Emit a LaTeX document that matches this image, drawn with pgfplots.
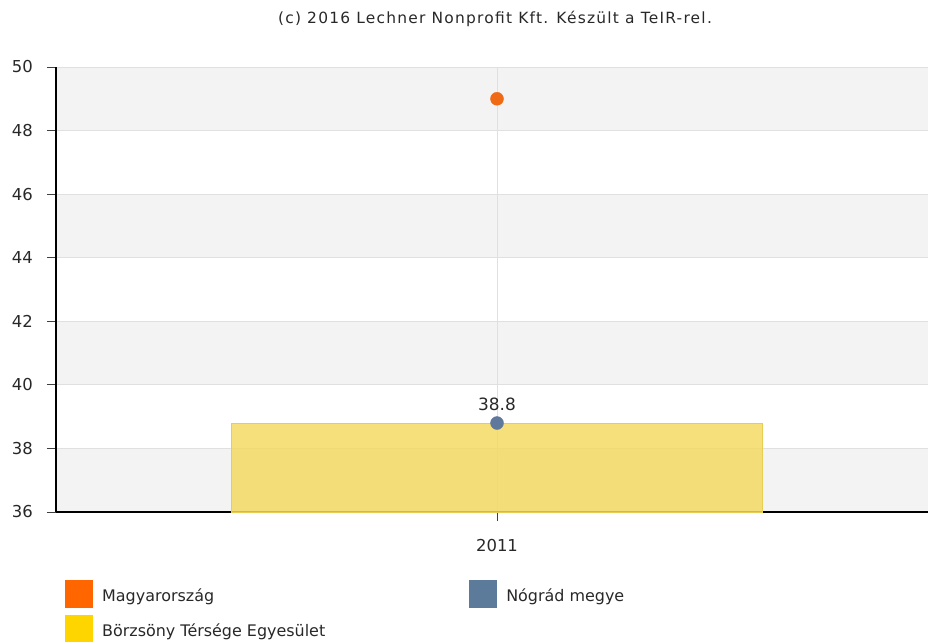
\documentclass[border=0pt]{standalone}
\usepackage{fontspec}
\setmainfont{DejaVu Sans}
\newfontfamily\titlefont[LetterSpace=8]{DejaVu Sans}
\usepackage{pgfplots}
\pgfplotsset{compat=1.18}

\definecolor{txt}{RGB}{40,40,40}
\definecolor{stripe}{RGB}{243,243,243}
\definecolor{gridc}{RGB}{224,224,224}
\definecolor{orangeL}{RGB}{255,102,0}
\definecolor{orangeD}{RGB}{240,105,20}
\definecolor{blueL}{RGB}{92,122,153}
\definecolor{blueD}{RGB}{95,120,155}
\definecolor{yellowL}{RGB}{255,213,0}
\definecolor{barY}{RGB}{243,218,100}
\definecolor{barE}{RGB}{232,205,85}

\begin{document}
\begin{tikzpicture}
\node[font=\titlefont\fontsize{15.5}{17}\selectfont, text=txt] at (495bp,-19bp)
  {(c) 2016 Lechner Nonprofit Kft. Készült a TeIR-rel.};
\begin{axis}[
  set layers,
  at={(56bp,-512bp)}, anchor=south west,
  scale only axis, width=872bp, height=445bp,
  xmin=0, xmax=872, ymin=36, ymax=50,
  axis x line*=bottom, axis y line*=left,
  axis line style={black, line width=1.3bp},
  ytick={36,38,...,50},
  xtick={441}, xticklabels={2011},
  tick align=outside, major tick length=9bp,
  tick style={black!75, line width=1bp},
  ymajorgrids, xmajorgrids,
  major grid style={gridc, line width=1bp},
  /pgf/number format/assume math mode=true,
  ticklabel style={font=\fontsize{16.5}{18}\selectfont, text=txt},
  yticklabel style={anchor=east, inner sep=0pt, xshift=-14bp},
  xticklabel style={anchor=north, inner sep=0pt, yshift=-18bp},
  legend columns=2,
  legend cell align=left,
  legend image code/.code={\fill[#1, draw=none] (0bp,-6bp) rectangle (28bp,22bp);},
  legend style={draw=none, fill=none, inner sep=0pt,
    at={(0,0)}, anchor=north west, xshift=9bp, yshift=-68bp,
    font=\fontsize{16}{18}\selectfont, text=txt,
    nodes={inner sep=0pt},
    row sep=7bp,
    /tikz/every odd column/.append style={column sep=9bp},
    /tikz/every even column/.append style={column sep=144bp, yshift=6bp}},
]
\begin{pgfonlayer}{axis background}
  \fill[stripe] (axis cs:0,48) rectangle (axis cs:872,50);
  \fill[stripe] (axis cs:0,44) rectangle (axis cs:872,46);
  \fill[stripe] (axis cs:0,40) rectangle (axis cs:872,42);
  \fill[stripe] (axis cs:0,36) rectangle (axis cs:872,38);
\end{pgfonlayer}

\addlegendimage{fill=orangeL}
\addlegendentry{Magyarország}
\addlegendimage{fill=blueL}
\addlegendentry{Nógrád megye}
\addlegendimage{fill=yellowL}
\addlegendentry{Börzsöny Térsége Egyesület}

% Börzsöny Térsége Egyesület
\addplot[forget plot, ybar, bar width=531, bar shift=0pt,
  fill=barY, fill opacity=0.85, draw=barE, line width=1bp]
  coordinates {(441,38.8)};
% Magyarország
\addplot[forget plot, only marks, mark=*, mark size=6.5bp,
  mark options={fill=orangeD, draw=orangeD}]
  coordinates {(441,49.0)};
% Nógrád megye
\addplot[forget plot, only marks, mark=*, mark size=6.5bp,
  mark options={fill=blueD, draw=blueD},
  nodes near coords,
  nodes near coords style={font=\fontsize{17}{19}\selectfont, text=txt,
    anchor=south, yshift=9bp,
    /pgf/number format/.cd, fixed, precision=1}]
  coordinates {(441,38.8)};
\end{axis}
\pgfresetboundingbox
\useasboundingbox (0,0) rectangle (928bp,-642bp);
\end{tikzpicture}
\end{document}
